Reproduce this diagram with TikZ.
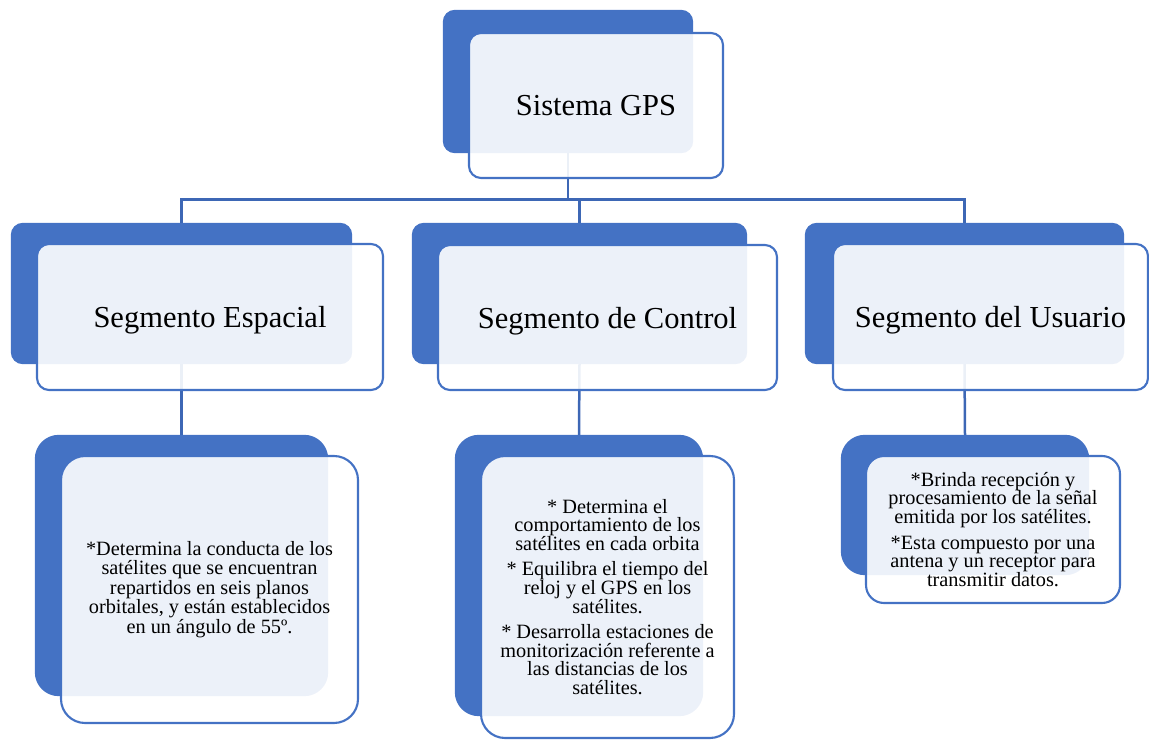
\documentclass[tikz,border=0pt]{standalone}
\usepackage{fontspec}
\setmainfont{Liberation Serif}
\definecolor{accent}{HTML}{4472C4}
\definecolor{linkblue}{HTML}{3D67B5}
\begin{document}
\begin{tikzpicture}[x=1pt,y=-1pt,
  frontbox/.style={fill=white,fill opacity=0.9,text opacity=1,draw=accent,
    line width=2.1pt,rounded corners=#1,inner sep=0pt,align=center,text=black},
  frontbox/.default=12pt,
  headtext/.style={font=\fontsize{30.5}{36}\selectfont,text depth=0pt},
  bodytext/.style={font=\fontsize{20.3}{18.7}\selectfont},
  conn/.style={draw=linkblue,line width=2.5pt}]
\useasboundingbox (0,0) rectangle (1149,741);

% places of the blue back plates
\path
  (568,81.5)    node[minimum width=250pt,minimum height=143pt] (b0) {}
  (181.5,293.5) node[minimum width=341pt,minimum height=141pt] (b1) {}
  (579.5,293.5) node[minimum width=335pt,minimum height=141pt] (b2) {}
  (964.5,293.5) node[minimum width=319pt,minimum height=141pt] (b3) {}
  (181.5,565.5) node[minimum width=293pt,minimum height=261pt] (d1) {}
  (579,575.5)   node[minimum width=248pt,minimum height=281pt] (d2) {}
  (965,505)     node[minimum width=248pt,minimum height=140pt] (d3) {};

% connectors
\coordinate (bus) at (568,199.5);
\draw[conn] (b0.south) -- (bus);
\draw[conn] (b1.north) -- (b1.north |- bus) -- (b3.north |- bus) -- (b3.north);
\draw[conn] (b2.north) -- (b2.north |- bus);
\draw[conn] (b1.south) -- (d1.north);
\draw[conn] (b2.south) -- (d2.north);
\draw[conn] (b3.south) -- (d3.north);

% blue plates
\foreach \n in {b0,b1,b2,b3}
  \fill[accent,rounded corners=12pt] (\n.north west) rectangle (\n.south east);
\foreach \n in {d1,d2,d3}
  \fill[accent,rounded corners=24pt] (\n.north west) rectangle (\n.south east);

% front cards
\node[frontbox,headtext,minimum width=254pt,minimum height=145pt] (f0) at (596,105.5) {Sistema GPS};
\node[frontbox,headtext,minimum width=346pt,minimum height=146pt] (f1) at (210,317) {Segmento Espacial};
\node[frontbox,headtext,minimum width=339pt,minimum height=145pt] (f2) at (607.5,317.5) {Segmento de Control};
\node[frontbox,headtext,minimum width=315pt,minimum height=146pt] (f3) at (990.5,317) {Segmento del Usuario};

\node[frontbox=24pt,minimum width=297pt,minimum height=267pt,
  font=\fontsize{20.3}{19.4}\selectfont] (g1) at (209.5,589.5)
  {*Determina la conducta de los\\satélites que se encuentran\\repartidos en seis planos\\orbitales, y están establecidos\\en un ángulo de 55º.};
\node[frontbox=24pt,bodytext,minimum width=253pt,minimum height=282pt] (g2) at (607.5,597)
  {* Determina el\\comportamiento de los\\satélites en cada orbita\\[6.5pt]
   * Equilibra el tiempo del\\reloj y el GPS en los\\satélites.\\[6.5pt]
   * Desarrolla estaciones de\\monitorización referente a\\las distancias de los\\satélites.};
\node[frontbox=18pt,bodytext,minimum width=254pt,minimum height=147pt] (g3) at (993,529.5)
  {*Brinda recepción y\\procesamiento de la señal\\emitida por los satélites.\\[7pt]
   *Esta compuesto por una\\antena y un receptor para\\transmitir datos.};
\end{tikzpicture}
\end{document}
